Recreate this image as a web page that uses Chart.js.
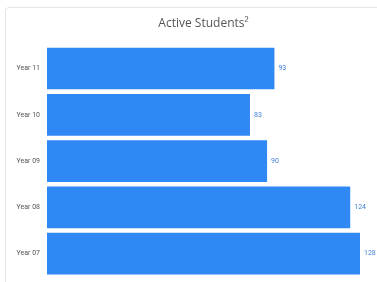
<!DOCTYPE html>
<html>
<head>
<meta charset="utf-8">
<script src="https://cdn.jsdelivr.net/npm/chart.js@4"></script>
<style>
  html, body { margin: 0; padding: 0; background: #fff; overflow: hidden; }
  .card {
    position: absolute; left: 5px; top: 7px; width: 420px; height: 320px;
    border: 1px solid #e6e6e6; border-radius: 4px;
  }
  .wrap { position: absolute; left: 0; top: 0; width: 377px; height: 288px; }
</style>
</head>
<body>
<div class="card"></div>
<div class="wrap"><canvas id="studentsChart"></canvas></div>
<script>
const years = ['Year 11', 'Year 10', 'Year 09', 'Year 08', 'Year 07'];
const activeStudents = [93, 83, 90, 124, 128];

// small inline label plugin: value to the right of each bar
const valueLabels = {
    id: 'valueLabels',
    afterDatasetsDraw(chart) {
        const c = chart.ctx;
        const meta = chart.getDatasetMeta(0);
        c.save();
        c.font = '7px Roboto';
        c.fillStyle = '#3f7fd6';
        c.textAlign = 'left';
        c.textBaseline = 'middle';
        meta.data.forEach((bar, i) => {
            c.fillText(activeStudents[i], bar.x + 4, bar.y);
        });
        c.restore();
    }
};

const ctx = document.getElementById('studentsChart');

new Chart(ctx, {
    type: 'bar',
    data: {
        labels: years,
        datasets: [{
            label: 'Active Students',
            data: activeStudents,
            backgroundColor: '#2f88f4',
            borderWidth: 0,
            barPercentage: 0.9,
            categoryPercentage: 1
        }]
    },
    options: {
        indexAxis: 'y',
        responsive: true,
        maintainAspectRatio: false,
        animation: false,
        layout: {
            autoPadding: false,
            padding: { left: 0, right: 17, top: 0, bottom: 4 }
        },
        plugins: {
            legend: { display: false },
            tooltip: { enabled: false },
            title: {
                display: true,
                fullSize: false,
                text: 'Active Students²',
                color: '#555',
                font: { family: 'Open Sans', size: 12, weight: 'normal' },
                padding: { top: 16, bottom: 15 }
            }
        },
        scales: {
            x: {
                display: false,
                min: 0,
                max: Math.max(...activeStudents)
            },
            y: {
                grid: { display: false, drawTicks: false },
                border: { display: false },
                afterFit(scale) { scale.width = 47; },
                ticks: {
                    color: '#555',
                    padding: 7,
                    font: { family: 'Roboto', size: 7 }
                }
            }
        }
    },
    plugins: [valueLabels]
});
</script>
</body>
</html>
